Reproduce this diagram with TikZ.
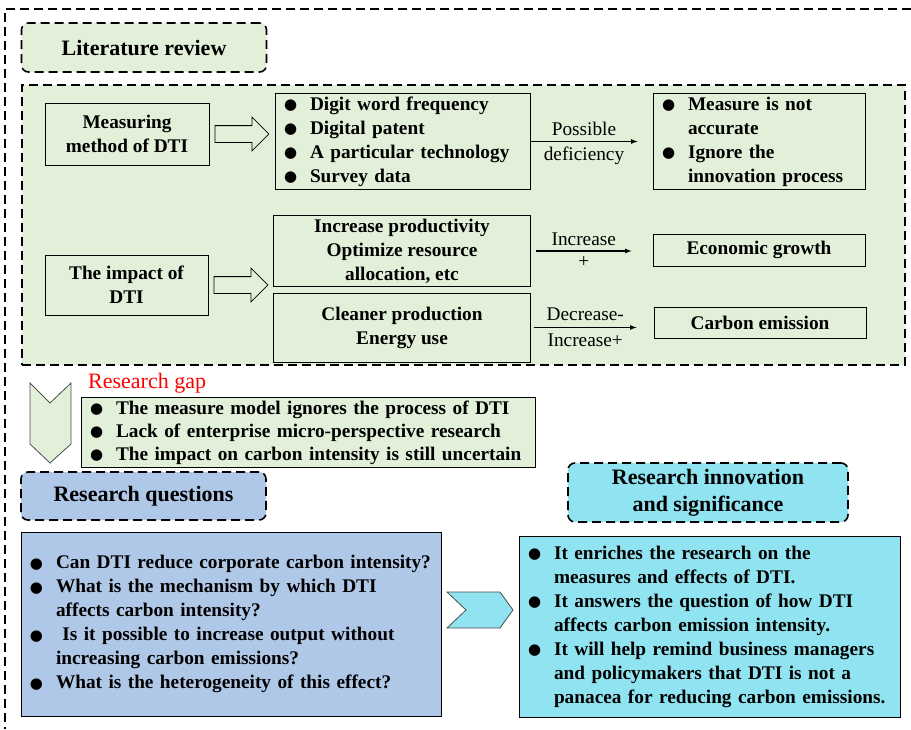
\documentclass[tikz,border=0pt]{standalone}
\usepackage{fontspec}
\setmainfont{Liberation Serif}
\newfontfamily\dejavu{DejaVu Sans}
\usepackage{tikz}
\usetikzlibrary{arrows,positioning,shapes,calc}
\definecolor{litgreen}{HTML}{E2F0D9}
\definecolor{qblue}{HTML}{B0C8E8}
\definecolor{icyan}{HTML}{90E4F1}
\newcommand{\txt}{\fontsize{19.3}{24}\selectfont}
\newcommand{\bul}{\makebox[26pt][l]{\raisebox{0.5pt}{\dejavu\fontsize{15}{15}\selectfont ●}}}
\newcommand{\nob}{\hspace*{26pt}}

\begin{document}
\begin{tikzpicture}[x=1pt,y=-1pt,
        every node/.style={font=\txt\bfseries},
        dashbox/.style={draw, line width=1.6pt, dash pattern=on 9pt off 5pt, rounded corners=7pt, align=center, font=\fontsize{22}{27}\selectfont\bfseries},
        solbox/.style={draw, line width=1pt, align=center},
        listbox/.style={draw, line width=1pt, align=left, inner xsep=9pt},
        hollow/.style={single arrow, draw, line width=0.8pt, fill=litgreen, minimum height=54pt, inner sep=8pt, single arrow head extend=8.5pt, anchor=west},
        chev/.style={draw=black!70, line width=0.8pt},
        lab/.style={font=\txt, inner sep=0pt},
        conn/.style={-latex, line width=1.2pt}]
                \useasboundingbox (0,0) rectangle (911,729);
                \draw [line width=1.6pt, dash pattern=on 9pt off 5pt] (911,9) -- (5,9) -- (5,729);

                \node[dashbox, fill=litgreen, minimum width=245, minimum height=49] (litrev) at (144,47.5) {Literature review};
                \node[draw, fill=litgreen, line width=1.6pt, dash pattern=on 9pt off 5pt, minimum width=883, minimum height=280] (review) at (463.5,225) {};

                \node[solbox, minimum width=164, minimum height=62] (measure) at (127,134) {Measuring\\method of DTI};
                \node[hollow] (mArrow) at ([xshift=5pt]measure.east) {};
                \node[listbox, text width=237, minimum height=93] (mlist) at (402.5,141.5) {\bul Digit word frequency\\\bul Digital patent\\\bul A particular technology\\\bul Survey data};
                \node[listbox, text width=194, minimum height=93] (mdef) at (759,141.5) {\bul Measure is not\\\nob accurate\\\bul Ignore the\\\nob innovation process};
                \draw[conn] (mlist.east) -- node[lab, above=5pt] {Possible} node[lab, below=5pt] {deficiency} ([xshift=-15pt]mdef.west);

                \node[solbox, minimum width=163, minimum height=60] (impact) at (126.5,285) {The impact of\\DTI};
                \node[hollow] (iArrow) at ([xshift=5pt]impact.east) {};
                \node[solbox, minimum width=257, minimum height=68] (prod) at (402,251) {Increase productivity\\Optimize resource\\allocation, etc};
                \node[solbox, minimum width=257, minimum height=69] (clean) at (402,327.5) {Cleaner production\\Energy use};
                \node[solbox, minimum width=212, minimum height=32] (growth) at (759,250) {Economic growth};
                \node[solbox, minimum width=212, minimum height=31] (carbon) at (760,322.5) {Carbon emission};
                \draw[conn] ([xshift=5pt]prod.east) -- node[lab, above=5pt] {Increase} node[lab, below=5pt] {+} ([xshift=-21pt]growth.west |- prod.east);
                \draw[conn] ([xshift=3pt]clean.east) -- node[lab, above=6pt] {Decrease-} node[lab, below=6pt] {Increase+} ([xshift=-17pt]carbon.west |- clean.east);

                \draw[chev, fill=litgreen] (30,383) -- (50,403) -- (71,383) -- (71,444) -- (50,463) -- (30,444) -- cycle;
                \node[lab, text=red, font=\fontsize{22}{24}\selectfont, anchor=west] (gaptitle) at (88,383) {Research gap};
                \node[listbox, fill=litgreen, text width=436, minimum height=67, font=\fontsize{19.3}{23}\selectfont\bfseries] (gap) at (308,432.5) {\bul The measure model ignores the process of DTI\\\bul Lack of enterprise micro-perspective research\\\bul The impact on carbon intensity is still uncertain};

                \node[dashbox, fill=qblue, minimum width=245, minimum height=48] (rq) at (143.5,496) {Research questions};
                \node[listbox, fill=qblue, text width=402, minimum height=184] (qlist) at (231,624) {\bul Can DTI reduce corporate carbon intensity?\\\bul What is the mechanism by which DTI\\\nob affects carbon intensity?\\\bul \ Is it possible to increase output without\\\nob increasing carbon emissions?\\\bul What is the heterogeneity of this effect?};

                \draw[chev, fill=icyan] (447,592) -- (500,592) -- (513,610) -- (500,628) -- (447,628) -- (466,610) -- cycle;

                \node[dashbox, fill=icyan, minimum width=280, minimum height=59] (ri) at (708,492.5) {Research innovation\\and significance};
                \node[listbox, fill=icyan, text width=363, minimum height=181] (ilist) at (709.5,626.5) {\bul It enriches the research on the\\\nob measures and effects of DTI.\\\bul It answers the question of how DTI\\\nob affects carbon emission intensity.\\\bul It will help remind business managers\\\nob and policymakers that DTI is not a\\\nob panacea for reducing carbon emissions.};
            \end{tikzpicture}
\end{document}
